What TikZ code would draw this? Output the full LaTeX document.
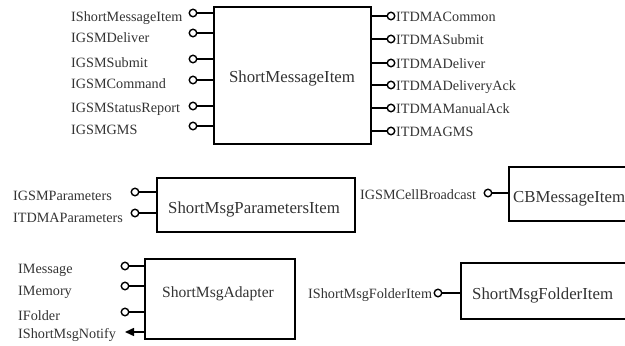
\documentclass[tikz,border=0pt]{standalone}
\usepackage{fontspec}
\setmainfont{Liberation Serif}
\usetikzlibrary{arrows.meta}
\begin{document}
\begin{tikzpicture}[x=1pt,y=-1pt,
  port/.style={circle, draw, line width=1.4pt, minimum size=7.5pt, inner sep=0pt},
  plabel/.style={anchor=base west, inner sep=0pt, text=black!80, font=\fontsize{14.2}{16}\selectfont},
  comp/.style={draw, line width=1.5pt, anchor=north west, inner sep=0pt},
  ctext/.style={anchor=base, inner sep=0pt, text=black!80, font=\fontsize{16.8}{19}\selectfont},
  ctextw/.style={anchor=base west, inner sep=0pt, text=black!80, font=\fontsize{16.8}{19}\selectfont},
  wire/.style={line width=1.5pt}]
\useasboundingbox (0,0) rectangle (625,346);
\clip (0,0) rectangle (625,346);

% components
\node[comp, minimum width=157pt, minimum height=137pt] (smi) at (213,6) {};
\node[ctext] (smit) at (292,82) {ShortMessageItem};

\node[comp, minimum width=198pt, minimum height=54pt] (smp) at (156,177) {};
\node[ctextw] (smpt) at (168,213) {ShortMsgParametersItem};

\node[comp, minimum width=150pt, minimum height=54pt] (cbm) at (508,166) {};
\node[ctextw] (cbmt) at (513,202) {CBMessageItem};

\node[comp, minimum width=150pt, minimum height=80pt] (adp) at (144,258) {};
\node[ctext, font=\fontsize{15.6}{18}\selectfont] (adpt) at (218,297) {ShortMsgAdapter};

\node[comp, minimum width=190pt, minimum height=56pt] (smf) at (460,262) {};
\node[ctextw] (smft) at (472,299) {ShortMsgFolderItem};

% ShortMessageItem left ports
\foreach \n/\y/\b/\t in {a/13/21/IShortMessageItem, b/33/42/IGSMDeliver, c/59/67/IGSMSubmit,
    d/80/88/IGSMCommand, e/106/112/IGSMStatusReport, f/126/134/IGSMGMS} {
  \node[port] (l\n) at (193,\y) {};
  \draw[wire] (l\n) -- (l\n -| smi.west);
  \node[plabel] (lt\n) at (71,\b) {\t};
}
% ShortMessageItem right ports
\foreach \n/\y/\t in {a/16/ITDMACommon, b/39/ITDMASubmit, c/63/ITDMADeliver,
    d/85/ITDMADeliveryAck, e/108/ITDMAManualAck, f/131/ITDMAGMS} {
  \node[port] (r\n) at (391,\y) {};
  \draw[wire] (r\n) -- (r\n -| smi.east);
  \node[plabel] (rt\n) at (396,\y+5) {\t};
}
% ShortMsgParametersItem ports
\foreach \n/\y/\b/\t in {a/192/200/IGSMParameters, b/213/222/ITDMAParameters} {
  \node[port] (p\n) at (135,\y) {};
  \draw[wire] (p\n) -- (p\n -| smp.west);
  \node[plabel] (pt\n) at (13,\b) {\t};
}
% CBMessageItem port
\node[port] (cbp) at (488,193) {};
\draw[wire] (cbp) -- (cbp -| cbm.west);
\node[plabel] (cbl) at (360,199) {IGSMCellBroadcast};

% ShortMsgAdapter ports
\foreach \n/\y/\b/\t in {a/266/273/IMessage, b/286/295/IMemory, c/312/320/IFolder} {
  \node[port] (a\n) at (125,\y) {};
  \draw[wire] (a\n) -- (a\n -| adp.west);
  \node[plabel] (at\n) at (18,\b) {\t};
}
\coordinate (nt) at (125,332);
\draw[wire, -{Triangle[length=9pt,width=8pt]}] (adp.west |- nt) -- (nt);
\node[plabel] (ntl) at (18,338) {IShortMsgNotify};

% ShortMsgFolderItem port
\node[port] (fp) at (438,293) {};
\draw[wire] (fp) -- (fp -| smf.west);
\node[plabel] (fpl) at (308,298) {IShortMsgFolderItem};
\end{tikzpicture}
\end{document}
